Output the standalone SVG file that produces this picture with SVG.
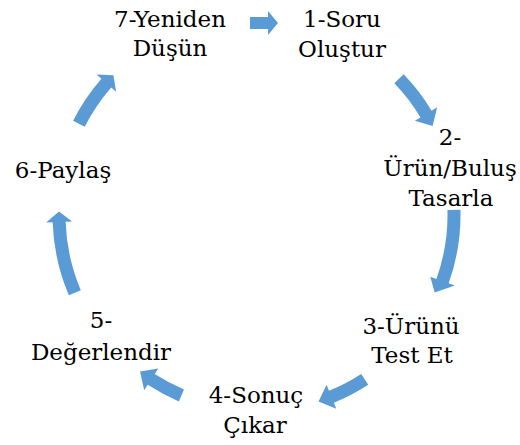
<svg xmlns="http://www.w3.org/2000/svg" width="520" height="445" viewBox="0 0 520 445">
<rect width="520" height="445" fill="#fff"/>
<g id="connectors" fill="#5B9BD5">
<path d="M250 17 L268 17 L268 11 L278 23 L268 35 L268 29 L250 29 Z"/>
<path d="M403.66 74.32 A202.5 202.5 0 0 1 431.58 110.71 L437.15 107.36 L432.64 126.02 L414.87 120.75 L420.44 117.41 A189.5 189.5 0 0 0 394.31 83.35 Z"/>
<path d="M460.43 209.70 A202.5 202.5 0 0 1 448.65 283.26 L454.77 285.45 L434.7 292.6 L430.29 276.69 L436.41 278.88 A189.5 189.5 0 0 0 447.44 210.04 Z"/>
<path d="M368.29 384.83 A202.5 202.5 0 0 1 333.86 402.75 L336.29 408.78 L318.57 401.41 L326.55 384.67 L328.99 390.70 A189.5 189.5 0 0 0 361.21 373.93 Z"/>
<path d="M178.88 401.40 A202.5 202.5 0 0 1 147.71 384.83 L144.17 390.28 L140.04 371.53 L158.33 368.48 L154.79 373.93 A189.5 189.5 0 0 0 183.96 389.43 Z"/>
<path d="M68.84 295.30 A205.5 205.5 0 0 1 52.63 222.17 L46.13 222.40 L59.03 211.53 L72.11 221.49 L65.62 221.72 A192.5 192.5 0 0 0 80.80 290.22 Z"/>
<path d="M73.12 120.80 A207.5 207.5 0 0 1 101.40 78.87 L96.49 74.60 L113.41 75.37 L116.11 91.66 L111.21 87.40 A194.5 194.5 0 0 0 84.70 126.70 Z"/>
</g>
<g font-family="DejaVu Serif, serif" font-size="23" text-anchor="middle" fill="#000">
<g id="n1"><text x="342" y="27">1-Soru</text><text x="342" y="57">Oluştur</text></g>
<g id="n2"><text x="450" y="145">2-</text><text x="450" y="176">Ürün/Buluş</text><text x="451" y="206">Tasarla</text></g>
<g id="n3"><text x="411" y="334">3-Ürünü</text><text x="412" y="363">Test Et</text></g>
<g id="n4"><text x="256" y="403">4-Sonuç</text><text x="255" y="433">Çıkar</text></g>
<g id="n5"><text x="101" y="328">5-</text><text x="101" y="360">Değerlendir</text></g>
<g id="n6"><text x="63" y="178">6-Paylaş</text></g>
<g id="n7"><text x="170" y="27">7-Yeniden</text><text x="170" y="56">Düşün</text></g>
</g>
</svg>
